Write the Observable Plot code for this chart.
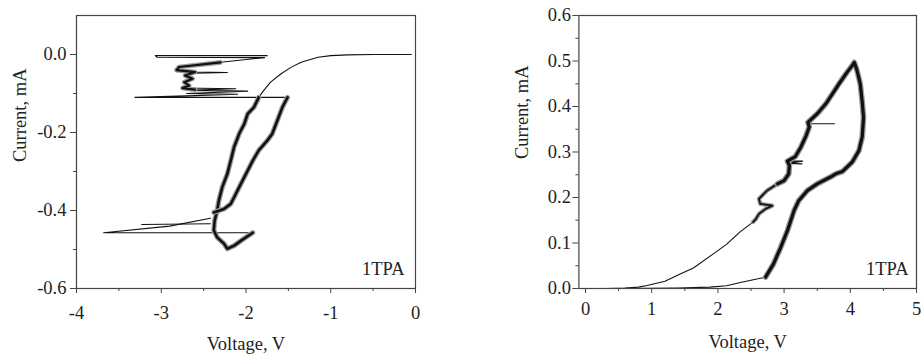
<!DOCTYPE html>
<html><head><meta charset="utf-8">
<script src="https://cdn.jsdelivr.net/npm/d3@7"></script>
<script src="https://cdn.jsdelivr.net/npm/@observablehq/plot@0.6"></script>
<style>
html,body{margin:0;padding:0;background:#fff;}
#wrap{position:relative;width:922px;height:356px;overflow:hidden;}
#left{position:absolute;left:0;top:0;}
#right{position:absolute;left:460px;top:0;}
</style></head><body><div id="wrap"><div id="left"></div><div id="right"></div></div>
<script>
// ---------- Left panel data (Voltage V, Current mA) ----------
const leftXTicks = [-4, -3, -2, -1, 0];
const leftXMinor = [-3.5, -2.5, -1.5, -0.5];
const leftYTicks = [-0.6, -0.4, -0.2, 0.0];
const leftYMinor = [-0.5, -0.3, -0.1];
const leftSmooth = [[-0.05,0],[-0.5,0],[-0.8,-0.001],[-1.0,-0.003],[-1.15,-0.007],[-1.35,-0.02],[-1.47,-0.033],[-1.59,-0.05],[-1.71,-0.071],[-1.79,-0.092],[-1.85,-0.11]];
const leftBranchInner = [[-1.85,-0.11],[-1.905,-0.135],[-1.98,-0.152],[-2.02,-0.178],[-2.08,-0.203],[-2.14,-0.237],[-2.18,-0.272],[-2.22,-0.306],[-2.28,-0.34],[-2.32,-0.374],[-2.34,-0.4],[-2.37,-0.426],[-2.38,-0.451],[-2.34,-0.469],[-2.26,-0.485],[-2.22,-0.498],[-2.14,-0.49],[-2.05,-0.476],[-1.92,-0.457]];
const leftBranchOuter = [[-2.38,-0.405],[-2.26,-0.396],[-2.18,-0.383],[-2.14,-0.366],[-2.08,-0.34],[-2.0,-0.306],[-1.92,-0.272],[-1.85,-0.246],[-1.75,-0.221],[-1.69,-0.203],[-1.63,-0.169],[-1.57,-0.135],[-1.51,-0.11]];
const leftSpikeLow1 = [[-1.92,-0.457],[-3.68,-0.457],[-2.9,-0.44],[-2.42,-0.42]];
const leftSpikeLow2 = [[-3.23,-0.436],[-2.42,-0.434]];
const leftZigzag = [[-1.75,-0.003],[-3.07,-0.003],[-3.05,-0.007],[-1.78,-0.008],[-2.3,-0.02],[-2.79,-0.032],[-2.82,-0.04],[-2.6,-0.045],[-2.22,-0.046],[-2.6,-0.048],[-2.72,-0.054],[-2.63,-0.062],[-2.73,-0.071],[-2.67,-0.08],[-2.75,-0.086],[-2.12,-0.088],[-2.7,-0.092],[-1.98,-0.094],[-2.7,-0.1],[-2.1,-0.102],[-2.7,-0.106],[-3.31,-0.11],[-1.51,-0.11]];
const leftZigThick = [[-2.3,-0.02],[-2.79,-0.032],[-2.82,-0.04],[-2.6,-0.045],[-2.72,-0.054],[-2.63,-0.062],[-2.73,-0.071],[-2.67,-0.08],[-2.75,-0.086],[-2.6,-0.09]];

// ---------- Right panel data ----------
const rightXTicks = [0, 1, 2, 3, 4, 5];
const rightXMinor = [0.5, 1.5, 2.5, 3.5, 4.5];
const rightYTicks = [0.0, 0.1, 0.2, 0.3, 0.4, 0.5, 0.6];
const rightYMinor = [0.05, 0.15, 0.25, 0.35, 0.45, 0.55];
const rightSmoothUp = [[0,0],[0.3,0],[0.6,0.001],[0.8,0.003],[0.93,0.0066],[1.2,0.016],[1.43,0.032],[1.63,0.045],[1.93,0.076],[2.13,0.097],[2.33,0.124],[2.53,0.146]];
const rightNoisyMid = [[2.53,0.146],[2.57,0.152],[2.62,0.164],[2.72,0.175],[2.82,0.182],[2.64,0.186],[2.62,0.197],[2.74,0.215],[2.9,0.23]];
const rightLoop = [[2.9,0.23],[3.0,0.237],[3.07,0.252],[3.08,0.27],[3.05,0.28],[3.17,0.29],[3.25,0.31],[3.33,0.335],[3.38,0.355],[3.36,0.365],[3.5,0.384],[3.63,0.406],[3.73,0.428],[3.83,0.45],[3.95,0.475],[4.03,0.49],[4.06,0.497],[4.1,0.48],[4.15,0.45],[4.18,0.41],[4.2,0.376],[4.18,0.333],[4.13,0.303],[4.03,0.278],[3.88,0.257],[3.78,0.252],[3.7,0.245],[3.5,0.23],[3.35,0.215],[3.22,0.193],[3.15,0.171],[3.05,0.127],[2.95,0.091],[2.84,0.054],[2.72,0.025]];
const rightReturn = [[2.72,0.025],[2.5,0.018],[2.34,0.013],[2.13,0.006],[1.88,0.003],[1.4,0.001],[1.0,0.0003],[0.5,0],[0,0]];
const rightSpike1 = [[3.36,0.362],[3.76,0.362]];
const rightSpike2 = [[3.05,0.28],[3.28,0.28],[3.06,0.275],[3.27,0.274]];

const tag = "1TPA";
const xTitle = "Voltage, V";
const yTitle = "Current, mA";

const font = {fontFamily: "'Liberation Serif', 'Times New Roman', serif", fontSize: "18.5px", color: "#222", background: "#fff"};
const X = d => d[0], Y = d => d[1];
const thinLine = arr => Plot.line(arr, {x: X, y: Y, stroke: "#111", strokeWidth: 1.1});
const fuzzLine = (arr, w) => [
  Plot.line(arr, {x: X, y: Y, stroke: "#9a9a9a", strokeWidth: w + 2.5, strokeLinejoin: "round"}),
  Plot.line(arr, {x: X, y: Y, stroke: "#111", strokeWidth: w, strokeLinejoin: "round"})
];

function panel(o) {
  return Plot.plot({
    width: o.width, height: 356,
    marginLeft: o.ml, marginRight: o.mr, marginTop: 15, marginBottom: 68,
    style: font,
    x: {domain: o.xDomain},
    y: {domain: o.yDomain},
    marks: [
      ...o.marks,
      Plot.frame({stroke: "#444", strokeWidth: 1.2}),
      Plot.axisX(o.xMinor, {tickSize: 3, tickFormat: () => "", label: null, stroke: "#444"}),
      Plot.axisX(o.xTicks, {tickSize: 5, tickPadding: o.xPad, tickFormat: d => String(d), label: null, stroke: "#444"}),
      Plot.axisY(o.yMinor, {tickSize: 3, tickFormat: () => "", label: null, stroke: "#444"}),
      Plot.axisY(o.yTicks, {tickSize: 6, tickPadding: o.yPad, tickFormat: d => d.toFixed(1), label: null, stroke: "#444"}),
      Plot.text([xTitle], {frameAnchor: "bottom", dy: o.xtDy, lineAnchor: "middle", fill: "#222"}),
      Plot.text([yTitle], {frameAnchor: "left", dx: o.ytDx, dy: o.ytDy, rotate: -90, fill: "#222"}),
      Plot.text([tag], {frameAnchor: "bottom-right", textAnchor: "end", lineAnchor: "middle", dx: o.tagDx, dy: -19, fill: "#222"})
    ]
  });
}

const left = panel({
  width: 460, ml: 76, mr: 45,
  xDomain: [-4, 0], yDomain: [-0.6, 0.1],
  xTicks: leftXTicks, xMinor: leftXMinor, yTicks: leftYTicks, yMinor: leftYMinor,
  xPad: 12, yPad: 4, xtDy: 56, ytDx: -56, ytDy: 10, tagDx: -11,
  marks: [
    thinLine(leftSmooth),
    thinLine(leftSpikeLow1),
    thinLine(leftSpikeLow2),
    thinLine(leftZigzag),
    ...fuzzLine(leftZigThick, 2.2),
    ...fuzzLine(leftBranchInner, 2.6),
    ...fuzzLine(leftBranchOuter, 2.6)
  ]
});
const right = panel({
  width: 462, ml: 118.4, mr: 6,
  xDomain: [-0.1, 5], yDomain: [0, 0.6],
  xTicks: rightXTicks, xMinor: rightXMinor, yTicks: rightYTicks, yMinor: rightYMinor,
  xPad: 8, yPad: 2, xtDy: 54, ytDx: -56.5, ytDy: 7, tagDx: -8,
  marks: [
    thinLine(rightSmoothUp),
    thinLine(rightReturn),
    thinLine(rightSpike1),
    thinLine(rightSpike2),
    ...fuzzLine(rightNoisyMid, 1.8),
    ...fuzzLine(rightLoop, 3.2)
  ]
});
document.getElementById("left").appendChild(left);
document.getElementById("right").appendChild(right);
</script>
</body></html>
